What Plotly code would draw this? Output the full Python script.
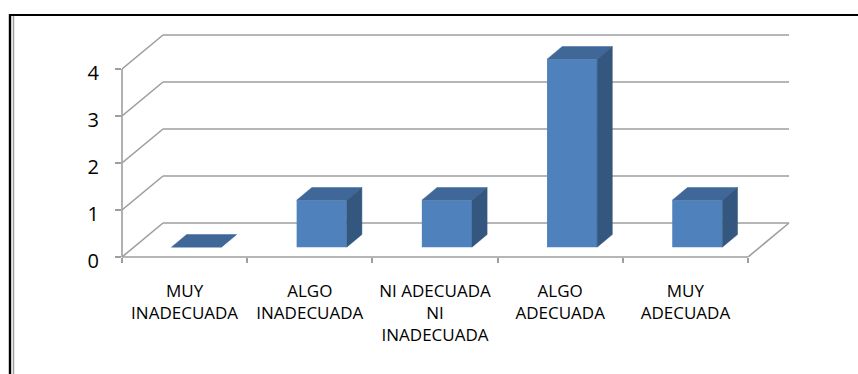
import plotly.graph_objects as go

# ---- data -------------------------------------------------------------
categories = [
    "MUY<br>INADECUADA",
    "ALGO<br>INADECUADA",
    "NI ADECUADA<br>NI<br>INADECUADA",
    "ALGO<br>ADECUADA",
    "MUY<br>ADECUADA",
]
values = [0, 1, 1, 4, 1]
y_ticks = [0, 1, 2, 3, 4]

# ---- canvas / scale setup ---------------------------------------------
FIG_W, FIG_H = 858, 374
M_L, M_R, M_T, M_B = 122, 60, 20, 117
PX_PER_CAT = 125.2          # horizontal pixels per category slot
PX_PER_UNIT = 47.0          # vertical pixels per value unit
PLOT_W = FIG_W - M_L - M_R
PLOT_H = FIG_H - M_T - M_B
X_MAX = PLOT_W / PX_PER_CAT
Y_MAX = PLOT_H / PX_PER_UNIT

# oblique depth of the chart box (in pixels), converted to data units
DEPTH_DX = 41 / PX_PER_CAT
DEPTH_DY = 34 / PX_PER_UNIT
BAR_FRONT = 0.29            # fraction of the box depth where the bar starts
BAR_BACK = 0.66             # fraction of the box depth where the bar ends
BAR_W = 0.4                 # bar width in category units

n = len(categories)
y_top = max(y_ticks)

FRONT = "#4F81BD"
TOP = "#3F6899"
SIDE = "#34577F"
GRID = "#9E9E9E"


def px_x(px):
    return (px - M_L) / PLOT_W


def px_y(py):
    return (FIG_H - M_B - py) / PLOT_H


fig = go.Figure()
shapes = []

# back wall grid, side wall diagonals
for v in y_ticks:
    shapes.append(dict(type="line", xref="x", yref="y", layer="below",
                       x0=0, y0=v, x1=DEPTH_DX, y1=v + DEPTH_DY,
                       line=dict(color=GRID, width=1.6)))
    shapes.append(dict(type="line", xref="x", yref="y", layer="below",
                       x0=DEPTH_DX, y0=v + DEPTH_DY, x1=n + DEPTH_DX, y1=v + DEPTH_DY,
                       line=dict(color=GRID, width=1.6)))

# right edge of the floor
shapes.append(dict(type="line", xref="x", yref="y", layer="below",
                   x0=n, y0=0, x1=n + DEPTH_DX, y1=DEPTH_DY,
                   line=dict(color=GRID, width=1.6)))

# front value axis and category axis lines
shapes.append(dict(type="line", xref="paper", yref="y", layer="below",
                   x0=0, y0=0, x1=0, y1=y_top,
                   line=dict(color=GRID, width=1.6)))
shapes.append(dict(type="line", xref="x", yref="paper", layer="below",
                   x0=0, y0=0, x1=n, y1=0,
                   line=dict(color=GRID, width=1.6)))

# outer frame (top and left edges)
shapes.append(dict(type="line", xref="paper", yref="paper",
                   x0=px_x(9), y0=px_y(15), x1=px_x(FIG_W + 2), y1=px_y(15),
                   line=dict(color="black", width=2.2)))
shapes.append(dict(type="line", xref="paper", yref="paper",
                   x0=px_x(10), y0=px_y(14), x1=px_x(10), y1=px_y(FIG_H + 2),
                   line=dict(color="black", width=2.4)))
shapes.append(dict(type="line", xref="paper", yref="paper",
                   x0=px_x(13.5), y0=px_y(16), x1=px_x(13.5), y1=px_y(FIG_H + 2),
                   line=dict(color="#A0A0A0", width=1.5)))

# front faces of the columns
fx0, fy0 = BAR_FRONT * DEPTH_DX, BAR_FRONT * DEPTH_DY
fx1, fy1 = BAR_BACK * DEPTH_DX, BAR_BACK * DEPTH_DY
centers = [i + 0.5 for i in range(n)]

fig.add_trace(go.Bar(
    x=[c + fx0 for c in centers], y=values, base=fy0, width=BAR_W,
    marker=dict(color=FRONT, line=dict(width=0)),
    hoverinfo="skip", showlegend=False,
))

# top and side faces
for c, v in zip(centers, values):
    xl, xr = c - BAR_W / 2, c + BAR_W / 2
    fig.add_trace(go.Scatter(
        x=[xl + fx0, xr + fx0, xr + fx1, xl + fx1, xl + fx0],
        y=[fy0 + v, fy0 + v, fy1 + v, fy1 + v, fy0 + v],
        mode="lines", fill="toself", fillcolor=TOP,
        line=dict(color=TOP, width=0.5),
        hoverinfo="skip", showlegend=False,
    ))
    if v > 0:
        fig.add_trace(go.Scatter(
            x=[xr + fx0, xr + fx0, xr + fx1, xr + fx1, xr + fx0],
            y=[fy0, fy0 + v, fy1 + v, fy1, fy0],
            mode="lines", fill="toself", fillcolor=SIDE,
            line=dict(color=SIDE, width=0.5),
            hoverinfo="skip", showlegend=False,
        ))

fig.update_layout(
    template="none",
    width=FIG_W, height=FIG_H,
    margin=dict(l=M_L, r=M_R, t=M_T, b=M_B, pad=0),
    paper_bgcolor="white", plot_bgcolor="rgba(0,0,0,0)",
    shapes=shapes,
    showlegend=False,
    xaxis=dict(
        range=[0, X_MAX], automargin=False, showgrid=False, zeroline=False,
        showline=False, fixedrange=True,
        tickmode="array", tickvals=centers, ticktext=categories,
        ticks="", ticklabelstandoff=22,
        tickfont=dict(family="Open Sans", size=17, color="#000000"),
        minor=dict(tickmode="array", tickvals=list(range(n + 1)),
                   ticks="outside", ticklen=5, tickwidth=1.5, tickcolor=GRID,
                   showgrid=False),
    ),
    yaxis=dict(
        range=[0, Y_MAX], automargin=False, showgrid=False, zeroline=False,
        showline=False, fixedrange=True,
        tickmode="array", tickvals=y_ticks, ticktext=[str(t) for t in y_ticks],
        ticks="outside", ticklen=6, tickwidth=1.5, tickcolor=GRID,
        ticklabelstandoff=12, ticklabelshift=4,
        tickfont=dict(family="Open Sans", size=20, color="#000000"),
    ),
)

fig.write_html("out.html")
